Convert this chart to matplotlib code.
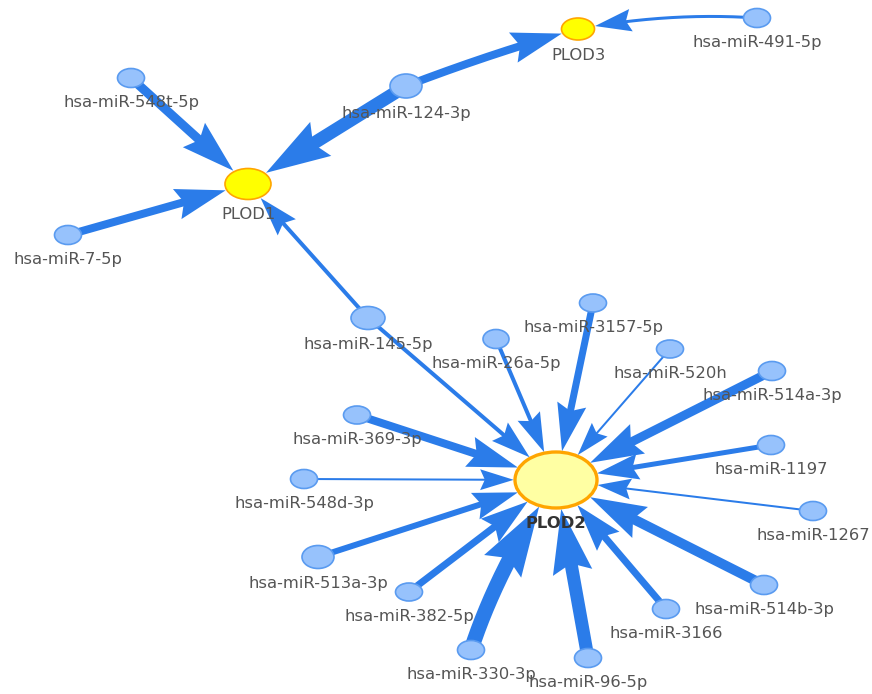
import numpy as np
import matplotlib
matplotlib.use('Agg')
import matplotlib.pyplot as plt
from matplotlib.patches import Ellipse, Polygon

# network data
genes = ['PLOD1', 'PLOD2', 'PLOD3']
mirnas = ['hsa-miR-548t-5p', 'hsa-miR-124-3p', 'hsa-miR-7-5p', 'hsa-miR-491-5p',
          'hsa-miR-145-5p', 'hsa-miR-3157-5p', 'hsa-miR-26a-5p', 'hsa-miR-520h',
          'hsa-miR-514a-3p', 'hsa-miR-369-3p', 'hsa-miR-1197', 'hsa-miR-548d-3p',
          'hsa-miR-1267', 'hsa-miR-513a-3p', 'hsa-miR-382-5p', 'hsa-miR-514b-3p',
          'hsa-miR-3166', 'hsa-miR-330-3p', 'hsa-miR-96-5p']
edge_src = ['hsa-miR-548t-5p', 'hsa-miR-124-3p', 'hsa-miR-7-5p', 'hsa-miR-145-5p',
            'hsa-miR-124-3p', 'hsa-miR-491-5p',
            'hsa-miR-145-5p', 'hsa-miR-3157-5p', 'hsa-miR-26a-5p', 'hsa-miR-520h',
            'hsa-miR-514a-3p', 'hsa-miR-369-3p', 'hsa-miR-1197', 'hsa-miR-548d-3p',
            'hsa-miR-1267', 'hsa-miR-513a-3p', 'hsa-miR-382-5p', 'hsa-miR-514b-3p',
            'hsa-miR-3166', 'hsa-miR-330-3p', 'hsa-miR-96-5p']
edge_dst = ['PLOD1', 'PLOD1', 'PLOD1', 'PLOD1',
            'PLOD3', 'PLOD3',
            'PLOD2', 'PLOD2', 'PLOD2', 'PLOD2', 'PLOD2', 'PLOD2', 'PLOD2', 'PLOD2',
            'PLOD2', 'PLOD2', 'PLOD2', 'PLOD2', 'PLOD2', 'PLOD2', 'PLOD2']
edge_weight = [9, 13, 8, 4,
               8, 3,
               4, 7, 4, 2, 9, 8, 5, 2,
               2, 6, 7, 10, 7, 15, 13]

# layout in pixels: x, y, width, height
layout = {
    'PLOD1': (248, 184, 46, 31),
    'PLOD2': (556, 480, 82, 56),
    'PLOD3': (578, 29, 33, 22),
    'hsa-miR-548t-5p': (131, 78, 27, 19),
    'hsa-miR-124-3p': (406, 86, 32, 24),
    'hsa-miR-7-5p': (68, 235, 27, 19),
    'hsa-miR-491-5p': (757, 18, 27, 19),
    'hsa-miR-145-5p': (368, 318, 34, 23),
    'hsa-miR-3157-5p': (593, 303, 27, 18),
    'hsa-miR-26a-5p': (496, 339, 26, 19),
    'hsa-miR-520h': (670, 349, 27, 18),
    'hsa-miR-514a-3p': (772, 371, 27, 19),
    'hsa-miR-369-3p': (357, 415, 27, 18),
    'hsa-miR-1197': (771, 445, 27, 19),
    'hsa-miR-548d-3p': (304, 479, 27, 19),
    'hsa-miR-1267': (813, 511, 27, 19),
    'hsa-miR-513a-3p': (318, 557, 32, 23),
    'hsa-miR-382-5p': (409, 592, 27, 18),
    'hsa-miR-514b-3p': (764, 585, 27, 19),
    'hsa-miR-3166': (666, 609, 27, 19),
    'hsa-miR-330-3p': (471, 650, 27, 19),
    'hsa-miR-96-5p': (588, 658, 27, 19),
}
curve_ctrl = {('hsa-miR-124-3p', 'PLOD3'): (495, 52),
              ('hsa-miR-491-5p', 'PLOD3'): (670, 12),
              ('hsa-miR-330-3p', 'PLOD2'): (497, 570)}

EDGE_COLOR = '#2B7CE9'


def draw_edge(ax, src, dst, width, ctrl=None):
    sx, sy = layout[src][:2]
    tx, ty, tw, th = layout[dst]
    p0 = np.array([sx, sy], float)
    p2 = np.array([tx, ty], float)
    p1 = np.array(ctrl, float) if ctrl is not None else (p0 + p2) / 2
    ts = np.linspace(0, 1, 800)[:, None]
    pts = (1 - ts) ** 2 * p0 + 2 * (1 - ts) * ts * p1 + ts ** 2 * p2
    inside = ((pts[:, 0] - tx) / (tw / 2 + 1)) ** 2 + ((pts[:, 1] - ty) / (th / 2 + 1)) ** 2 <= 1
    idx = np.argmax(inside) - 1
    tip = pts[idx]
    t = ts[idx, 0]
    d = 2 * (1 - t) * (p1 - p0) + 2 * t * (p2 - p1)
    d = d / np.linalg.norm(d)
    n = np.array([-d[1], d[0]])
    L = 28 + 2.8 * width
    hw = 0.31 * L
    back = tip - d * L
    notch = tip - d * 0.86 * L
    dist = np.linalg.norm(pts[:idx] - tip, axis=1)
    line = pts[:idx][dist > 0.8 * L]
    ax.plot(line[:, 0], line[:, 1], color=EDGE_COLOR, lw=width * 0.72,
            solid_capstyle='butt', zorder=1)
    ax.add_patch(Polygon([tip, back + n * hw, notch, back - n * hw],
                         closed=True, facecolor=EDGE_COLOR, edgecolor='none', zorder=1))


fig = plt.figure(figsize=(8.72, 6.94), dpi=100)
ax = fig.add_axes([0, 0, 1, 1])
ax.set_xlim(0, 872)
ax.set_ylim(694, 0)
ax.axis('off')

for s, t, w in zip(edge_src, edge_dst, edge_weight):
    draw_edge(ax, s, t, w, curve_ctrl.get((s, t)))

for name in mirnas:
    x, y, w, h = layout[name]
    ax.add_patch(Ellipse((x, y), w, h, facecolor='#97C2FC', edgecolor='#5A9BF0',
                         lw=1.2, zorder=2))
    ax.text(x, y + h / 2 + 15, name, ha='center', va='center', fontsize=11.8,
            family='DejaVu Sans', color='#555555', zorder=3)

for name in genes:
    x, y, w, h = layout[name]
    if name == 'PLOD2':
        ax.add_patch(Ellipse((x, y), w, h, facecolor='#FFFFA3', edgecolor='#FFA500',
                             lw=2.4, zorder=2))
        ax.text(x, y + h / 2 + 15, name, ha='center', va='center', fontsize=11.8,
                family='DejaVu Sans', fontweight='bold', color='#333333', zorder=3)
    else:
        ax.add_patch(Ellipse((x, y), w, h, facecolor='#FFFF00', edgecolor='#FFA500',
                             lw=1.2, zorder=2))
        ax.text(x, y + h / 2 + 15, name, ha='center', va='center', fontsize=11.8,
                family='DejaVu Sans', color='#555555', zorder=3)

fig.savefig('out.png', dpi=100)
